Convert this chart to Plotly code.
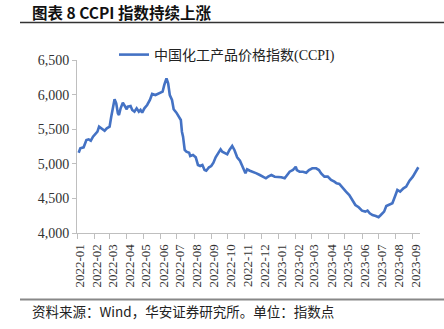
import plotly.graph_objects as go

# CCPI daily index (sampled), index points
dates = [
    "2022-01-04", "2022-01-07", "2022-01-13", "2022-01-18", "2022-01-22", "2022-01-26",
    "2022-01-30", "2022-02-03", "2022-02-07", "2022-02-10", "2022-02-15", "2022-02-20",
    "2022-02-24", "2022-03-01", "2022-03-04", "2022-03-07", "2022-03-10", "2022-03-13",
    "2022-03-16", "2022-03-18", "2022-03-21", "2022-03-25", "2022-03-28", "2022-04-01",
    "2022-04-03", "2022-04-08", "2022-04-11", "2022-04-15", "2022-04-19", "2022-04-23",
    "2022-04-26", "2022-04-29", "2022-05-03", "2022-05-08", "2022-05-13", "2022-05-17",
    "2022-05-23", "2022-05-29", "2022-06-02", "2022-06-05", "2022-06-08", "2022-06-12",
    "2022-06-15", "2022-06-18", "2022-06-22", "2022-06-25", "2022-06-30", "2022-07-05",
    "2022-07-08", "2022-07-10", "2022-07-12", "2022-07-15", "2022-07-18", "2022-07-23",
    "2022-07-25", "2022-07-30", "2022-08-04", "2022-08-08", "2022-08-12", "2022-08-16",
    "2022-08-20", "2022-08-23", "2022-08-28", "2022-09-01", "2022-09-05", "2022-09-09",
    "2022-09-13", "2022-09-18", "2022-09-21", "2022-09-25", "2022-09-30", "2022-10-04",
    "2022-10-09", "2022-10-13", "2022-10-18", "2022-10-23", "2022-10-27", "2022-10-31",
    "2022-11-02", "2022-11-05", "2022-11-10", "2022-11-16", "2022-11-22", "2022-11-28",
    "2022-12-04", "2022-12-09", "2022-12-13", "2022-12-19", "2022-12-25", "2022-12-30",
    "2023-01-06", "2023-01-12", "2023-01-16", "2023-01-21", "2023-01-27", "2023-02-01",
    "2023-02-03", "2023-02-08", "2023-02-14", "2023-02-20", "2023-02-25", "2023-03-03",
    "2023-03-10", "2023-03-15", "2023-03-19", "2023-03-25", "2023-03-31", "2023-04-06",
    "2023-04-12", "2023-04-16", "2023-04-21", "2023-04-27", "2023-05-03", "2023-05-09",
    "2023-05-15", "2023-05-20", "2023-05-26", "2023-06-01", "2023-06-07", "2023-06-11",
    "2023-06-15", "2023-06-20", "2023-06-26", "2023-07-01", "2023-07-05", "2023-07-11",
    "2023-07-15", "2023-07-20", "2023-07-26", "2023-07-31", "2023-08-04", "2023-08-09",
    "2023-08-15", "2023-08-20", "2023-08-26", "2023-09-01", "2023-09-07", "2023-09-11",
]
ccpi = [
    5160, 5224, 5238, 5344, 5354, 5334,
    5392, 5426, 5464, 5536, 5513, 5478,
    5513, 5536, 5681, 5802, 5932, 5874,
    5730, 5705, 5802, 5883, 5850, 5788,
    5825, 5835, 5778, 5753, 5802, 5753,
    5778, 5739, 5802, 5850, 5922, 6009,
    5994, 6019, 6028, 6042, 6139, 6235,
    6163, 5994, 5922, 5788, 5739, 5658,
    5633, 5464, 5392, 5200, 5175, 5161,
    5113, 5127, 5094, 4983, 4968, 4983,
    4910, 4900, 4950, 4968, 5016, 5094,
    5152, 5210, 5175, 5161, 5137, 5200,
    5257, 5200, 5094, 5045, 4958, 4900,
    4862, 4921, 4900, 4886, 4862, 4838,
    4814, 4790, 4814, 4838, 4814, 4814,
    4805, 4790, 4838, 4886, 4910, 4958,
    4910, 4886, 4886, 4871, 4910, 4935,
    4935, 4910, 4862, 4814, 4814, 4766,
    4741, 4717, 4708, 4646, 4597, 4549,
    4477, 4405, 4372, 4323, 4309, 4323,
    4285, 4260, 4246, 4227, 4260, 4309,
    4390, 4405, 4430, 4535, 4622, 4597,
    4646, 4670, 4756, 4814, 4886, 4950,
]
series_name = "中国化工产品价格指数(CCPI)"
title_text = "图表 8 CCPI 指数持续上涨"
source_text = "资料来源：Wind，华安证券研究所。单位：指数点"

W, H = 444, 329
L, R, T, B = 77, 420, 60, 233


def px(x):
    return (x - L) / (R - L)


def py(y):
    return (B - y) / (B - T)


CJK = "'Noto Sans CJK SC', sans-serif"
SERIF = "'Liberation Serif', 'Noto Sans CJK SC', serif"

fig = go.Figure()
fig.add_trace(go.Scatter(
    x=dates, y=ccpi, mode="lines", name=series_name,
    line=dict(color="#4472C4", width=2.6),
))

fig.update_layout(
    width=W, height=H,
    margin=dict(l=L, r=W - R, t=T, b=H - B),
    paper_bgcolor="white", plot_bgcolor="white",
    showlegend=True,
    legend=dict(
        x=px(114), y=py(55), xanchor="left", yanchor="middle",
        orientation="h", font=dict(family=SERIF, size=14, color="#222"),
        bgcolor="rgba(0,0,0,0)",
    ),
    xaxis=dict(
        type="date", range=["2022-01-01", "2023-09-14"],
        tick0="2022-01-01", dtick="M1", tickformat="%Y-%m", tickangle=-90,
        ticks="outside", ticklen=5, tickcolor="#BFBFBF",
        showline=True, linecolor="#BFBFBF", linewidth=1,
        showgrid=False, zeroline=False, ticklabelshift=3,
        tickfont=dict(family=SERIF, size=13, color="#333"),
    ),
    yaxis=dict(
        range=[4000, 6500], dtick=500, tickformat=",",
        ticks="outside", ticklen=4, tickcolor="#BFBFBF",
        showline=True, linecolor="#BFBFBF", linewidth=1,
        showgrid=False, zeroline=False,
        tickfont=dict(family=SERIF, size=14, color="#333"),
    ),
)

# header and footer rules
fig.add_shape(type="line", xref="paper", yref="paper",
              x0=px(20), x1=px(444), y0=py(22.5), y1=py(22.5),
              line=dict(color="#333", width=1.5))
fig.add_shape(type="line", xref="paper", yref="paper",
              x0=px(20), x1=px(444), y0=py(299.5), y1=py(299.5),
              line=dict(color="#888", width=2))

fig.add_annotation(text="<b>" + title_text + "</b>", xref="paper", yref="paper",
                   x=px(30), y=py(12), xanchor="left", yanchor="middle",
                   showarrow=False, font=dict(family=CJK, size=15.5, color="#111"))
fig.add_annotation(text=source_text, xref="paper", yref="paper",
                   x=px(30), y=py(311), xanchor="left", yanchor="middle",
                   showarrow=False, font=dict(family=CJK, size=13.5, color="#222"))

fig.write_html("out.html")
